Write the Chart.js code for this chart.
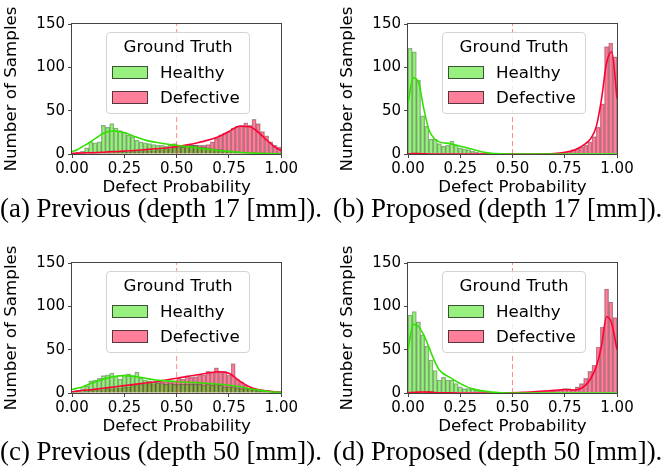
<!DOCTYPE html>
<html><head><meta charset="utf-8">
<script src="https://cdn.jsdelivr.net/npm/chart.js@4"></script>
<style>
html,body{margin:0;padding:0;background:#fff;}
#wrap{position:relative;width:671px;height:473px;overflow:hidden;background:#fff;}
canvas{position:absolute;}
.legend{position:absolute;width:144px;height:82px;border:1px solid #d4d4d4;border-radius:4px;background:rgba(255,255,255,0.8);box-sizing:border-box;font-family:'DejaVu Sans';font-size:16.7px;color:#000;}
.legend .t{position:absolute;left:0;width:100%;text-align:center;line-height:20px;}
.legend .p{position:absolute;width:36px;height:13px;box-sizing:border-box;border:1px solid rgba(30,30,30,0.75);}
.legend .l{position:absolute;line-height:20px;white-space:nowrap;}
.cap{position:absolute;font-family:'Liberation Serif';font-size:26.9px;white-space:nowrap;line-height:30px;color:#000;}
</style></head>
<body><div id="wrap"></div>
<script>
// ---- data ----
const binWidth = 0.02;
const xTicks = [0, 0.25, 0.5, 0.75, 1.0];
const yTicks = [0, 50, 100, 150];
const threshold = [0.5];
const seriesNames = ['Healthy', 'Defective'];
const legendTitle = 'Ground Truth';
const yLabel = 'Number of Samples';
const xLabel = 'Defect Probability';
const captions = ['(a) Previous (depth 17 [mm]).', '(b) Proposed (depth 17 [mm]).', '(c) Previous (depth 50 [mm]).', '(d) Proposed (depth 50 [mm]).'];

const A_healthy = [1,2,3,7,14,13,14,33,31,35, 30,27,25,22,20,16,14,13,12,11, 10,10,9,10,12,10,8,10,10,10, 8,8,7,6,5,5,4,3,3,2, 2,2,1,1,1,1,0,0,0,0];
const A_defective = [0,0,1,0,1,1,1,1,1,1, 2,2,2,2,3,3,3,4,4,4, 5,5,6,6,7,8,8,9,10,10, 10,10,11,14,18,22,24,26,30,32, 33,36,33,40,35,26,21,14,10,8];
const B_healthy = [122,118,85,44,32,17,17,12,9,10, 15,10,7,6,5,3,2,1,1,1, 0,0,0,0,0,0,0,0,0,0, 0,0,0,0,0,0,0,0,0,0, 0,0,0,0,0,0,0,0,0,0];
const B_defective = [0,1,0,0,0,0,0,0,0,0, 0,0,0,0,0,0,0,0,0,0, 0,0,0,0,0,0,0,0,0,0, 0,0,0,0,0,1,1,2,3,5, 6,8,10,14,20,31,58,124,128,112];
const C_healthy = [2,3,5,8,14,15,17,20,21,23, 19,16,21,22,20,24,17,15,14,13, 12,11,10,11,10,10,10,10,10,10, 10,9,10,9,10,9,7,7,7,6, 5,5,5,4,3,3,3,2,1,1];
const C_defective = [1,1,1,2,3,3,4,4,5,5, 6,6,7,7,9,9,10,10,11,11, 12,13,13,14,14,17,16,20,18,19, 21,21,25,24,29,25,25,21,34,16, 13,9,6,4,3,2,2,1,1,0];
const D_healthy = [90,94,82,67,54,38,26,15,18,15, 15,11,7,5,5,5,3,2,1,1, 0,0,0,0,0,0,0,0,0,0, 0,0,0,0,0,0,0,0,0,0, 0,0,0,0,0,0,0,0,0,0];
const D_defective = [0,0,0,1,2,2,1,0,0,0, 0,0,0,0,0,0,0,0,0,0, 0,0,0,0,0,0,0,0,1,1, 1,1,2,2,3,3,4,5,5,4, 7,11,17,25,32,53,76,120,105,87];

const kdeX = [0,0.025,0.05,0.075,0.1,0.125,0.15,0.2,0.25,0.3,0.35,0.4,0.45,0.5,0.55,0.6,0.65,0.7,0.75,0.8,0.85,0.875,0.9,0.925,0.95,0.975,1.0];
const A_kdeHealthy = [2.7,5,8.5,12,16,20,24,26.6,24.7,20,16,13.5,11.6,10,8.5,7,5.4,4.2,3,2,1.2,1,0.7,0.5,0.4,0.3,0.2];
const A_kdeDefective = [0.8,1,1.2,1.4,1.5,1.8,2.1,2.7,3.3,4,5,6,7,8.5,10.5,13,16,20,26,32,31.5,28,23,17,12,7,4];
const B_kdeHealthy = [59,88,83,53,28,18,14,12,9,6,2.5,0.8,0.2,0,0,0,0,0,0,0,0,0,0,0,0,0,0];
const B_kdeDefective = [0.2,0.6,0.5,0.2,0,0,0,0,0,0,0,0,0,0,0,0,0.1,0.5,2,5,12,18,31,62,105,118,64];
const C_kdeHealthy = [4,5.5,7,9.5,12,14,16,19,20,19,17,15,14,13,12.3,12,11,10.4,9,7.3,5,4,3,2.2,1.5,1.1,0.8];
const C_kdeDefective = [1.5,2.2,2.8,3.4,4,4.8,5.5,7,8.5,10,11.5,13,15,17,19,21,23,24.6,22.7,14,7,5,3.5,2.6,2,1.4,1];
const D_kdeHealthy = [50,79,77,67,53,38,26.5,18,11,5.4,2.7,1,0.3,0,0,0,0,0,0,0,0,0,0,0,0,0,0];
const D_kdeDefective = [0.3,0.6,1,1.2,1,0.6,0.3,0.1,0,0,0,0,0.1,0.3,0.7,1.5,2.3,3,4,3.5,9,17,30,53,88,80,50];

// ---- style ----
const healthyLine = 'rgb(49,225,0)';
const defectLine = 'rgb(255,0,53)';
const healthyFill = 'rgba(49,225,0,0.5)';
const defectFill = 'rgba(255,0,53,0.5)';
const edge = 'rgba(40,40,40,0.42)';
const axisColor = '#444';

Chart.defaults.font.family = "'DejaVu Sans'";
Chart.defaults.color = '#000';

const panels = [
  {left:0,   top:0,   rp:18, h:A_healthy, d:A_defective, kh:A_kdeHealthy, kd:A_kdeDefective, cap:captions[0], capLeft:0,   capTop:193},
  {left:336, top:0,   rp:19, h:B_healthy, d:B_defective, kh:B_kdeHealthy, kd:B_kdeDefective, cap:captions[1], capLeft:333, capTop:193},
  {left:0,   top:239, rp:18, h:C_healthy, d:C_defective, kh:C_kdeHealthy, kd:C_kdeDefective, cap:captions[2], capLeft:0,   capTop:436},
  {left:336, top:239, rp:19, h:D_healthy, d:D_defective, kh:D_kdeHealthy, kd:D_kdeDefective, cap:captions[3], capLeft:333, capTop:436}
];

const framePlugin = {
  id: 'frame',
  afterDatasetsDraw(chart) {
    const {ctx, chartArea: a} = chart;
    ctx.save();
    ctx.strokeStyle = axisColor;
    ctx.lineWidth = 1;
    ctx.strokeRect(Math.round(a.left) - 0.5, Math.round(a.top) - 0.5, Math.round(a.right - a.left) + 1, Math.round(a.bottom - a.top) + 1);
    ctx.restore();
  }
};

const wrap = document.getElementById('wrap');

panels.forEach(p => {
  const cv = document.createElement('canvas');
  cv.width = 300; cv.height = 200;
  cv.style.left = p.left + 'px'; cv.style.top = p.top + 'px';
  cv.style.width = '300px'; cv.style.height = '200px';
  wrap.appendChild(cv);

  const bars = (arr) => arr.map((v, i) => ({x: (i + 0.5) * binWidth, y: v}));
  const kde = (arr) => arr.map((v, i) => ({x: kdeX[i], y: v}));
  const barCommon = {type:'bar', borderColor: edge, borderWidth: 0.7, grouped: false, barPercentage: 1, categoryPercentage: 1};
  const lineCommon = {type:'line', pointRadius: 0, borderWidth: 1.6, cubicInterpolationMode: 'monotone', fill: false};

  new Chart(cv, {
    data: {
      datasets: [
        Object.assign({}, barCommon, {label: seriesNames[1], data: bars(p.d), backgroundColor: defectFill, order: 4}),
        Object.assign({}, barCommon, {label: seriesNames[0], data: bars(p.h), backgroundColor: healthyFill, order: 3}),
        Object.assign({}, lineCommon, {label: seriesNames[1] + ' KDE', data: kde(p.kd), borderColor: defectLine, order: 2}),
        Object.assign({}, lineCommon, {label: seriesNames[0] + ' KDE', data: kde(p.kh), borderColor: healthyLine, order: 1}),
        {type:'line', label:'threshold', data: [{x: threshold[0], y: yTicks[0]}, {x: threshold[0], y: yTicks[yTicks.length-1]}],
         borderColor: 'rgba(255,60,60,0.6)', borderDash: [5,3], borderWidth: 1, pointRadius: 0, order: 0}
      ]
    },
    options: {
      responsive: false, animation: false, devicePixelRatio: 1,
      layout: {padding: {left: 0, top: 24, right: p.rp, bottom: 0}},
      plugins: {legend: {display: false}, tooltip: {enabled: false}},
      scales: {
        x: {
          type: 'linear', min: xTicks[0], max: xTicks[xTicks.length-1], offset: false,
          afterBuildTicks: (s) => { s.ticks = xTicks.map(v => ({value: v})); },
          afterFit: (s) => { s.height = 46; },
          ticks: {autoSkip: false, maxRotation: 0, padding: 2, font: {size: 15}, color: '#000', callback: v => Number(v).toFixed(2)},
          grid: {drawOnChartArea: false, drawTicks: true, tickLength: 4, color: axisColor, offset: false},
          border: {display: false},
          title: {display: true, text: xLabel, font: {size: 16.7}, color: '#000', padding: {top: 0, bottom: 2}}
        },
        y: {
          type: 'linear', min: yTicks[0], max: yTicks[yTicks.length-1],
          afterBuildTicks: (s) => { s.ticks = yTicks.map(v => ({value: v})); },
          afterFit: (s) => { s.width = 72; },
          ticks: {padding: 3, font: {size: 15}, color: '#000'},
          grid: {drawOnChartArea: false, drawTicks: true, tickLength: 4, color: axisColor},
          border: {display: false},
          title: {display: true, text: yLabel, font: {size: 16.7}, color: '#000', padding: {top: 2, bottom: 0}}
        }
      }
    },
    plugins: [framePlugin]
  });

  // legend
  const lg = document.createElement('div');
  lg.className = 'legend';
  lg.style.left = (p.left + 72 + 34) + 'px';
  lg.style.top = (p.top + 24 + 8) + 'px';
  const t = document.createElement('div'); t.className = 't'; t.style.top = '3px'; t.textContent = legendTitle; lg.appendChild(t);
  [[healthyFill, seriesNames[0]], [defectFill, seriesNames[1]]].forEach((e, i) => {
    const pa = document.createElement('div'); pa.className = 'p';
    pa.style.left = '5px'; pa.style.top = (33 + i * 25) + 'px'; pa.style.background = e[0];
    lg.appendChild(pa);
    const la = document.createElement('div'); la.className = 'l';
    la.style.left = '53px'; la.style.top = (29 + i * 25) + 'px'; la.textContent = e[1];
    lg.appendChild(la);
  });
  wrap.appendChild(lg);

  const c = document.createElement('div'); c.className = 'cap';
  c.style.left = p.capLeft + 'px'; c.style.top = p.capTop + 'px'; c.textContent = p.cap;
  wrap.appendChild(c);
});
</script>
</body></html>
